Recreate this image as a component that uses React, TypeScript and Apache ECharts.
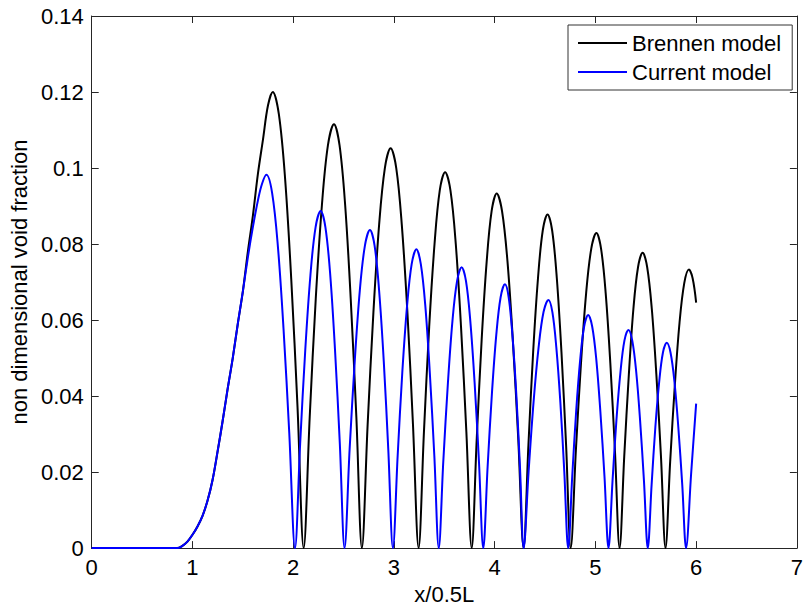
import React, { useEffect, useRef } from "react";
import * as echarts from "echarts";

const seriesNames = ["Brennen model", "Current model"];

// [x/0.5L, void fraction]
const brennenPoints: number[][] = [
  [0, 0], [0.85, 0], [0.9, 0.0006], [0.95, 0.0017], [1.0, 0.0035], [1.05, 0.0057], [1.1, 0.0085],
  [1.15, 0.0125], [1.2, 0.018], [1.25, 0.0255], [1.3, 0.0335], [1.35, 0.042], [1.4, 0.05],
  [1.45, 0.059], [1.5, 0.0675], [1.55, 0.078], [1.6, 0.0875], [1.65, 0.0985], [1.7, 0.1075],
  [1.75, 0.1165], [1.797, 0.12], [1.858, 0.1141], [1.92, 0.0971], [1.981, 0.0706], [2.043, 0.0371], [2.104, 0],
  [2.164, 0.0345], [2.224, 0.0656], [2.285, 0.0902], [2.345, 0.106], [2.405, 0.1115], [2.46, 0.106],
  [2.516, 0.0902], [2.571, 0.0656], [2.627, 0.0345], [2.682, 0],
  [2.739, 0.0325], [2.796, 0.0619], [2.853, 0.0851], [2.91, 0.1], [2.967, 0.1052], [3.023, 0.1],
  [3.078, 0.0851], [3.134, 0.0619], [3.189, 0.0325], [3.245, 0],
  [3.298, 0.0306], [3.35, 0.0582], [3.403, 0.08], [3.455, 0.0941], [3.508, 0.0989], [3.561, 0.0941],
  [3.614, 0.08], [3.666, 0.0582], [3.719, 0.0306], [3.772, 0],
  [3.822, 0.0288], [3.871, 0.0549], [3.921, 0.0755], [3.97, 0.0887], [4.02, 0.0933], [4.073, 0.0887],
  [4.127, 0.0755], [4.18, 0.0549], [4.234, 0.0288], [4.287, 0],
  [4.335, 0.0271], [4.382, 0.0516], [4.43, 0.071], [4.477, 0.0835], [4.525, 0.0878], [4.571, 0.0835],
  [4.617, 0.071], [4.663, 0.0516], [4.709, 0.0271], [4.755, 0],
  [4.806, 0.0256], [4.857, 0.0487], [4.908, 0.0671], [4.959, 0.0788], [5.01, 0.0829], [5.056, 0.0788],
  [5.102, 0.0671], [5.148, 0.0487], [5.194, 0.0256], [5.24, 0],
  [5.286, 0.024], [5.332, 0.0457], [5.377, 0.0629], [5.423, 0.0739], [5.469, 0.0777], [5.514, 0.0739],
  [5.56, 0.0629], [5.605, 0.0457], [5.651, 0.024], [5.696, 0],
  [5.742, 0.0227], [5.789, 0.0431], [5.835, 0.0593], [5.882, 0.0697], [5.928, 0.0733], [5.965, 0.071],
  [6.0, 0.0646],
];

const currentPoints: number[][] = [
  [0, 0], [0.85, 0], [0.9, 0.0006], [0.95, 0.0017], [1.0, 0.0035], [1.05, 0.0057], [1.1, 0.0085],
  [1.15, 0.0125], [1.2, 0.018], [1.25, 0.0255], [1.3, 0.0335], [1.35, 0.042], [1.4, 0.05],
  [1.45, 0.059], [1.5, 0.0675], [1.55, 0.0765], [1.6, 0.0845], [1.65, 0.0915], [1.69, 0.0958],
  [1.734, 0.0982], [1.791, 0.0934], [1.848, 0.0794], [1.904, 0.0577], [1.961, 0.0303], [2.018, 0],
  [2.069, 0.0274], [2.12, 0.0522], [2.171, 0.0718], [2.222, 0.0844], [2.273, 0.0887], [2.32, 0.0844],
  [2.368, 0.0718], [2.415, 0.0522], [2.463, 0.0274], [2.51, 0],
  [2.56, 0.0259], [2.611, 0.0492], [2.661, 0.0677], [2.712, 0.0796], [2.762, 0.0837], [2.808, 0.0796],
  [2.853, 0.0677], [2.899, 0.0492], [2.944, 0.0259], [2.99, 0],
  [3.037, 0.0243], [3.083, 0.0462], [3.13, 0.0636], [3.176, 0.0747], [3.223, 0.0786], [3.267, 0.0747],
  [3.312, 0.0636], [3.356, 0.0462], [3.401, 0.0243], [3.445, 0],
  [3.49, 0.0228], [3.536, 0.0435], [3.581, 0.0598], [3.627, 0.0703], [3.672, 0.0739], [3.715, 0.0703],
  [3.758, 0.0598], [3.801, 0.0435], [3.844, 0.0228], [3.887, 0],
  [3.93, 0.0214], [3.973, 0.0408], [4.016, 0.0561], [4.059, 0.066], [4.102, 0.0694], [4.139, 0.066],
  [4.176, 0.0561], [4.214, 0.0408], [4.251, 0.0214], [4.288, 0],
  [4.337, 0.0202], [4.386, 0.0384], [4.436, 0.0528], [4.485, 0.0621], [4.534, 0.0653], [4.573, 0.0621],
  [4.612, 0.0528], [4.652, 0.0384], [4.691, 0.0202], [4.73, 0],
  [4.77, 0.0189], [4.809, 0.036], [4.849, 0.0496], [4.888, 0.0583], [4.928, 0.0613], [4.968, 0.0583],
  [5.009, 0.0496], [5.049, 0.036], [5.09, 0.0189], [5.13, 0],
  [5.17, 0.0177], [5.209, 0.0338], [5.249, 0.0464], [5.288, 0.0546], [5.328, 0.0574], [5.366, 0.0546],
  [5.405, 0.0464], [5.443, 0.0338], [5.482, 0.0177], [5.52, 0],
  [5.558, 0.0167], [5.595, 0.0318], [5.633, 0.0437], [5.67, 0.0514], [5.708, 0.054], [5.746, 0.0514],
  [5.785, 0.0437], [5.823, 0.0318], [5.862, 0.0167], [5.9, 0],
  [5.95, 0.0195], [6.0, 0.038],
];

const xRange = [0, 7, 1];
const yRange = [0, 0.14, 0.02];
const xName = "x/0.5L";
const yName = "non dimensional void fraction";

const FONT = "'Liberation Sans', Arial, Helvetica, sans-serif";
const AXIS_COLOR = "#262626";

export default function App() {
  const ref = useRef<HTMLDivElement>(null);

  useEffect(() => {
    if (!ref.current) return;
    const chart = echarts.init(ref.current, null, { renderer: "svg" });

    const axisCommon = {
      axisLine: { show: true, onZero: false, lineStyle: { color: AXIS_COLOR, width: 1 } },
      axisTick: { show: true, inside: true, length: 7, lineStyle: { color: AXIS_COLOR, width: 1 } },
      splitLine: { show: false },
    };

    const xBase = { type: "value", min: xRange[0], max: xRange[1], interval: xRange[2] };
    const yBase = { type: "value", min: yRange[0], max: yRange[1], interval: yRange[2] };

    chart.setOption({
      animation: false,
      backgroundColor: "#ffffff",
      textStyle: { fontFamily: FONT },
      grid: { left: 91, top: 16, right: 5, bottom: 56, containLabel: false },
      legend: {
        orient: "vertical",
        left: 568,
        top: 25,
        padding: [7, 11, 7, 10],
        itemWidth: 49,
        itemHeight: 2,
        itemGap: 7,
        icon: "rect",
        backgroundColor: "#ffffff",
        borderColor: "#333333",
        borderWidth: 1,
        textStyle: { fontSize: 22, color: "#000", fontFamily: FONT, lineHeight: 22 },
        data: seriesNames,
      },
      xAxis: [
        {
          ...xBase,
          ...axisCommon,
          position: "bottom",
          name: xName,
          nameLocation: "middle",
          nameGap: 31,
          nameTextStyle: { fontSize: 22, color: "#000", fontFamily: FONT },
          axisLabel: { fontSize: 22, color: "#000", margin: 8, fontFamily: FONT },
        },
        {
          ...xBase,
          ...axisCommon,
          position: "top",
          axisLabel: { show: false },
        },
      ],
      yAxis: [
        {
          ...yBase,
          ...axisCommon,
          position: "left",
          name: yName,
          nameLocation: "middle",
          nameRotate: 90,
          nameGap: 61,
          nameTextStyle: { fontSize: 22, color: "#000", fontFamily: FONT },
          axisLabel: {
            fontSize: 22,
            color: "#000",
            margin: 8,
            fontFamily: FONT,
            formatter: (v: number) => String(+v.toFixed(2)),
          },
        },
        {
          ...yBase,
          ...axisCommon,
          position: "right",
          axisLabel: { show: false },
        },
      ],
      series: [
        {
          name: seriesNames[0],
          type: "line",
          xAxisIndex: 0,
          yAxisIndex: 0,
          data: brennenPoints,
          symbol: "none",
          smooth: 0.35,
          color: "#000000",
          lineStyle: { color: "#000000", width: 2 },
          z: 3,
        },
        {
          name: seriesNames[1],
          type: "line",
          xAxisIndex: 0,
          yAxisIndex: 0,
          data: currentPoints,
          symbol: "none",
          smooth: 0.35,
          color: "#0000ff",
          lineStyle: { color: "#0000ff", width: 2 },
          z: 4,
        },
      ],
    });

    return () => chart.dispose();
  }, []);

  return (
    <div
      ref={ref}
      style={{ position: "fixed", left: 0, top: 0, width: 806, height: 610, background: "#fff" }}
    />
  );
}
